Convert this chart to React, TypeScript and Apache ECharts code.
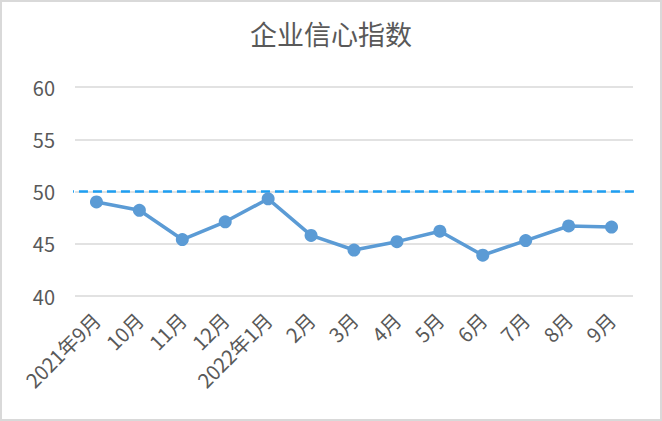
import React, { useEffect, useRef } from "react";
import * as echarts from "echarts";

const TITLE = "企业信心指数";
const categories = ["2021年9月", "10月", "11月", "12月", "2022年1月", "2月", "3月", "4月", "5月", "6月", "7月", "8月", "9月"];
const values = [49.0, 48.2, 45.4, 47.1, 49.3, 45.8, 44.4, 45.2, 46.2, 43.9, 45.3, 46.7, 46.6];
const yTicks = { min: 40, max: 60, interval: 5 };
const thresholdValue = 50;
const thresholdSpan = [-0.018, 1.016];

const FONT = '"Noto Sans CJK SC", "Noto Sans", sans-serif';
const GREY = "#595959";

export default function App() {
  const ref = useRef<HTMLDivElement>(null);
  useEffect(() => {
    document.body.style.margin = "0";
    const chart = echarts.init(ref.current!, null, { renderer: "svg" });
    chart.setOption({
      animation: false,
      backgroundColor: "#ffffff",
      title: {
        text: TITLE,
        left: "center",
        top: 13,
        textStyle: { fontFamily: FONT, fontSize: 27, fontWeight: "normal", color: GREY },
      },
      grid: { left: 73, right: 27, top: 85, bottom: 123, containLabel: false },
      xAxis: [
        {
          type: "category",
          data: categories,
          boundaryGap: true,
          axisLine: { show: false },
          axisTick: { show: false },
          axisLabel: {
            rotate: 45,
            interval: 0,
            margin: 20,
            color: GREY,
            fontFamily: FONT,
            fontSize: 20,
          },
        },
        { type: "value", min: 0, max: 1, show: false },
      ],
      yAxis: {
        type: "value",
        min: yTicks.min,
        max: yTicks.max,
        interval: yTicks.interval,
        axisLine: { show: false },
        axisTick: { show: false },
        axisLabel: { color: GREY, fontFamily: FONT, fontSize: 20, margin: 20 },
        splitLine: { lineStyle: { color: "#d9d9d9", width: 1.5 } },
      },
      series: [
        {
          type: "line",
          xAxisIndex: 1,
          data: thresholdSpan.map((x) => [x, thresholdValue]),
          clip: false,
          symbol: "none",
          lineStyle: { color: "#1e9ff2", width: 2.5, type: [9, 5] },
          silent: true,
          z: 1,
        },
        {
          type: "line",
          data: values,
          symbol: "circle",
          symbolSize: 13,
          itemStyle: { color: "#5b9bd5" },
          lineStyle: { color: "#5b9bd5", width: 3.5 },
          z: 3,
        },
      ],
    });
    return () => chart.dispose();
  }, []);
  return (
    <div
      style={{
        width: 662,
        height: 421,
        boxSizing: "border-box",
        border: "2px solid #d9d9d9",
        background: "#fff",
      }}
    >
      <div ref={ref} style={{ width: 658, height: 417 }} />
    </div>
  );
}
